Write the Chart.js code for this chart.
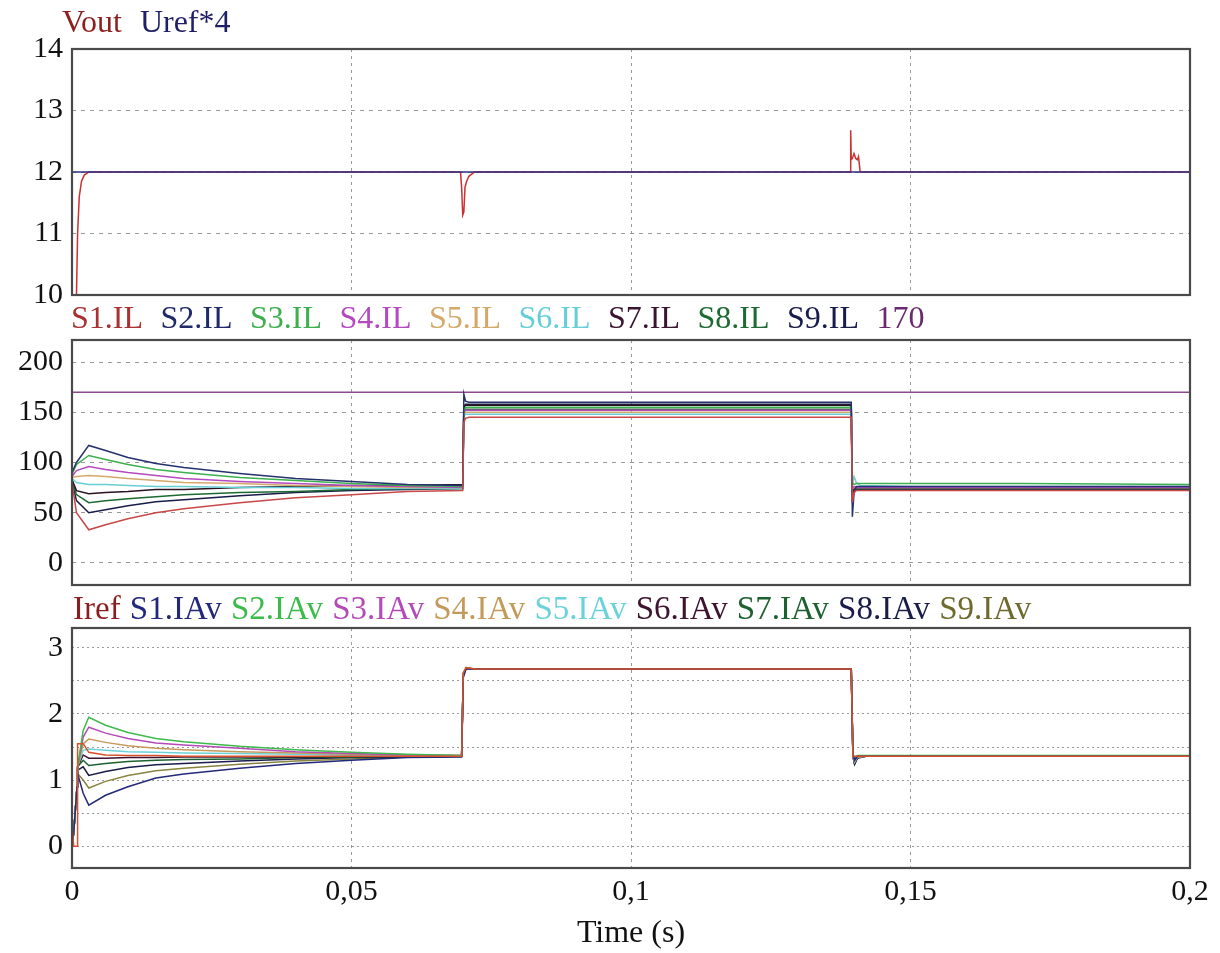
<!DOCTYPE html>
<html><head><meta charset="utf-8">
<script src="https://cdn.jsdelivr.net/npm/chart.js@4.4.1/dist/chart.umd.min.js"></script>
<style>
html,body{margin:0;padding:0;background:#fff;width:1220px;height:953px;overflow:hidden;}
canvas{position:absolute;left:0;}
</style></head><body>
<canvas id="c1" width="1220" height="320" style="top:0px"></canvas>
<canvas id="c2" width="1220" height="290" style="top:300px"></canvas>
<canvas id="c3" width="1220" height="363" style="top:590px"></canvas>
<script>
// ---------- tick labels ----------
const timeTicks = [0, 0.05, 0.1, 0.15, 0.2];
const timeTickLabels = ['0', '0,05', '0,1', '0,15', '0,2'];
const voltTicks = [10, 11, 12, 13, 14];
const ilTicks = [0, 50, 100, 150, 200];
const iavTicks = [0, 1, 2, 3];

// ---------- panel 1: Vout, Uref*4 ----------
const tVout = [0, 0.0008, 0.001, 0.0013, 0.0017, 0.0022, 0.003, 0.004, 0.0695, 0.0697, 0.0699, 0.0701, 0.0703, 0.0706, 0.071, 0.072,
               0.1392, 0.1393, 0.1394, 0.1396, 0.1399, 0.1402, 0.1405, 0.1407, 0.141, 0.2];
const vout = [10, 10, 11.0, 11.6, 11.85, 11.95, 12.0, 12.0, 12.0, 11.75, 11.3, 11.35, 11.75, 11.85, 11.93, 12.0,
              12.0, 12.68, 12.2, 12.22, 12.3, 12.22, 12.2, 12.25, 12.0, 12.0];
const tUref = [0, 0.2];
const uref4 = [12, 12];

// ---------- panel 2: inductor currents ----------
const tIL = [0, 0.0008, 0.003, 0.006, 0.01, 0.015, 0.02, 0.03, 0.04, 0.05, 0.06, 0.0699,
             0.0701, 0.0704, 0.071, 0.08, 0.1, 0.12, 0.1394,
             0.1396, 0.1399, 0.1403, 0.141, 0.15, 0.17, 0.2];
const s1IL = [80, 50, 33, 38, 44, 50, 54, 60, 65, 68, 71, 72, 140, 144, 145, 145, 145, 145, 145, 60, 70, 72, 72, 72, 72, 72];
const s2IL = [90, 100, 117, 112, 105, 99, 95, 89, 84, 81, 78, 77, 168, 161, 160, 160, 160, 160, 160, 46, 70, 76, 76, 76, 76, 76];
const s3IL = [88, 98, 107, 103, 98, 93, 90, 85, 82, 79, 77, 76, 152, 155, 155, 155, 155, 155, 155, 80, 78, 79, 79, 79, 79, 78];
const s4IL = [86, 92, 96, 93, 90, 87, 84, 81, 79, 77, 76, 75, 150, 152, 152, 152, 152, 152, 152, 74, 76, 75, 75, 75, 75, 75];
const s5IL = [85, 86, 87, 86, 84, 82, 80, 79, 77, 76, 75, 75, 148, 150, 150, 150, 150, 150, 150, 74, 75, 75, 75, 75, 75, 75];
const s6IL = [84, 80, 78, 78, 77, 76, 76, 75, 75, 74, 74, 74, 146, 148, 148, 148, 148, 148, 148, 78, 86, 80, 77, 76, 76, 76];
const s7IL = [83, 72, 69, 70, 71, 73, 73, 75, 76, 77, 77, 78, 155, 157, 157, 157, 157, 157, 157, 72, 75, 75, 75, 75, 75, 75];
const s8IL = [82, 68, 60, 62, 64, 66, 68, 70, 71, 73, 74, 74, 151, 153, 153, 153, 153, 153, 153, 70, 74, 74, 74, 74, 74, 74];
const s9IL = [81, 62, 50, 53, 57, 61, 63, 67, 70, 72, 73, 74, 156, 158, 158, 158, 158, 158, 158, 65, 72, 73, 73, 73, 73, 73];
const tLimit = [0, 0.2];
const limit170 = [170, 170];

// ---------- panel 3: average currents ----------
const tAv = [0, 0.0003, 0.0009, 0.001, 0.002, 0.003, 0.006, 0.01, 0.015, 0.02, 0.03, 0.04, 0.05, 0.06, 0.0697,
             0.0700, 0.0705, 0.072, 0.1, 0.1394, 0.1397, 0.1400, 0.1405, 0.142, 0.2];
const iref  = [0.35, 0, 0, 1.55, 1.55, 1.42, 1.38, 1.37, 1.37, 1.36, 1.36, 1.36, 1.36, 1.36, 1.36, 2.62, 2.7, 2.68, 2.68, 2.68, 1.36, 1.36, 1.36, 1.36, 1.36];
const s1IAv = [0, 0.2, 0.9, 1.1, 0.8, 0.62, 0.77, 0.9, 1.03, 1.09, 1.18, 1.25, 1.30, 1.34, 1.35, 2.55, 2.68, 2.68, 2.68, 2.68, 1.4, 1.3, 1.36, 1.36, 1.36];
const s2IAv = [0, 0.2, 0.9, 1.2, 1.75, 1.95, 1.83, 1.72, 1.63, 1.58, 1.51, 1.46, 1.42, 1.39, 1.37, 2.6, 2.7, 2.68, 2.68, 2.68, 1.38, 1.34, 1.37, 1.37, 1.37];
const s3IAv = [0, 0.2, 0.9, 1.2, 1.65, 1.8, 1.71, 1.63, 1.56, 1.53, 1.48, 1.43, 1.40, 1.38, 1.37, 2.6, 2.69, 2.68, 2.68, 2.68, 1.36, 1.3, 1.36, 1.36, 1.36];
const s4IAv = [0, 0.2, 0.9, 1.2, 1.55, 1.62, 1.57, 1.52, 1.48, 1.46, 1.43, 1.41, 1.39, 1.38, 1.37, 2.6, 2.69, 2.68, 2.68, 2.68, 1.36, 1.28, 1.35, 1.36, 1.36];
const s5IAv = [0, 0.2, 0.9, 1.2, 1.45, 1.47, 1.45, 1.43, 1.42, 1.41, 1.40, 1.39, 1.38, 1.37, 1.36, 2.6, 2.69, 2.68, 2.68, 2.68, 1.36, 1.27, 1.35, 1.36, 1.36];
const s6IAv = [0, 0.2, 0.9, 1.2, 1.38, 1.33, 1.33, 1.34, 1.34, 1.35, 1.35, 1.35, 1.36, 1.36, 1.36, 2.6, 2.69, 2.68, 2.68, 2.68, 1.36, 1.25, 1.34, 1.36, 1.36];
const s7IAv = [0, 0.2, 0.9, 1.2, 1.3, 1.22, 1.25, 1.28, 1.30, 1.31, 1.32, 1.34, 1.35, 1.36, 1.36, 2.6, 2.69, 2.68, 2.68, 2.68, 1.36, 1.24, 1.34, 1.36, 1.36];
const s8IAv = [0, 0.2, 0.9, 1.15, 1.2, 1.07, 1.13, 1.19, 1.23, 1.25, 1.29, 1.32, 1.34, 1.35, 1.36, 2.6, 2.69, 2.68, 2.68, 2.68, 1.36, 1.24, 1.33, 1.36, 1.36];
const s9IAv = [0, 0.2, 0.9, 1.1, 1.0, 0.88, 0.98, 1.07, 1.14, 1.18, 1.24, 1.29, 1.32, 1.35, 1.36, 2.62, 2.7, 2.68, 2.68, 2.68, 1.36, 1.25, 1.34, 1.36, 1.36];

// ---------- styling ----------
const FONT = "'Liberation Serif', 'Times New Roman', serif";
const pts = (ts, vs) => ts.map((t, i) => ({x: t, y: vs[i]}));
const ds = (label, ts, vs, color, extra) => Object.assign({
  label, data: pts(ts, vs), borderColor: color, legendColor: color,
  borderWidth: 1.5, pointRadius: 0, tension: 0, fill: false
}, extra || {});

const textLegend = {
  id: 'textLegend',
  afterDraw(chart, args, opts) {
    const ctx = chart.ctx;
    ctx.save();
    ctx.font = opts.size + 'px ' + FONT;
    ctx.textBaseline = 'middle';
    ctx.textAlign = 'left';
    let x = opts.x;
    chart.data.datasets.forEach(d => {
      ctx.fillStyle = d.legendColor;
      ctx.fillText(d.label, x, opts.y);
      x += ctx.measureText(d.label).width + opts.gap;
    });
    ctx.restore();
  }
};
const frame = {
  id: 'frame',
  afterDatasetsDraw(chart) {
    const a = chart.chartArea, ctx = chart.ctx;
    ctx.save();
    ctx.strokeStyle = '#4a4a4a';
    ctx.lineWidth = 2.2;
    ctx.strokeRect(a.left, a.top, a.right - a.left, a.bottom - a.top);
    ctx.restore();
  }
};

function xScale(showLabels) {
  return {
    type: 'linear', min: 0, max: 0.2,
    grid: {color: '#9a9a9a', lineWidth: 1, drawTicks: false},
    border: {display: false, dash: [3, 4]},
    ticks: {
      display: showLabels, stepSize: 0.05, padding: 6, color: '#111',
      font: {family: FONT, size: 30},
      callback: v => { const i = timeTicks.findIndex(t => Math.abs(t - v) < 1e-9); return i >= 0 ? timeTickLabels[i] : ''; }
    },
    title: {display: showLabels, text: 'Time (s)', color: '#111', font: {family: FONT, size: 32}, padding: {top: 0, bottom: 0}},
    afterFit: s => { s.height = showLabels ? 85 : 0; s.paddingLeft = 0; s.paddingRight = 0; }
  };
}
function yScale(min, max, step, labels, dash) {
  return {
    type: 'linear', min, max,
    grid: {color: '#9a9a9a', lineWidth: 1, drawTicks: false},
    border: {display: false, dash: dash},
    ticks: {
      stepSize: step, includeBounds: false, padding: 9, color: '#111',
      font: {family: FONT, size: 30},
      callback: v => labels.some(l => Math.abs(l - v) < 1e-9) ? String(v) : ''
    },
    afterFit: s => { s.width = 72; s.paddingTop = 0; s.paddingBottom = 0; }
  };
}
function baseOptions(padTop, padBottom, legend, ymin, ymax, step, labels, dash, showX) {
  return {
    responsive: false, animation: false, devicePixelRatio: 1,
    layout: {padding: {top: padTop, bottom: padBottom, left: 0, right: 30}},
    plugins: {legend: {display: false}, tooltip: {enabled: false}, textLegend: legend},
    scales: {x: xScale(showX), y: yScale(ymin, ymax, step, labels, dash)}
  };
}

new Chart(document.getElementById('c1'), {
  type: 'line',
  data: {datasets: [
    ds('Vout', tVout, vout, '#cc3030', {legendColor: '#8e1f1f', order: 1}),
    ds('Uref*4', tUref, uref4, '#2c2c80', {legendColor: '#1f1f66', order: 0})
  ]},
  options: baseOptions(49, 25, {x: 62, y: 24, gap: 18, size: 32}, 10, 14, 1, voltTicks, [4, 5], false),
  plugins: [textLegend, frame]
});

new Chart(document.getElementById('c2'), {
  type: 'line',
  data: {datasets: [
    ds('S1.IL', tIL, s1IL, '#c84848', {legendColor: '#a83232'}),
    ds('S2.IL', tIL, s2IL, '#25306e', {legendColor: '#1f2a6b'}),
    ds('S3.IL', tIL, s3IL, '#3cb04e'),
    ds('S4.IL', tIL, s4IL, '#b44ac0'),
    ds('S5.IL', tIL, s5IL, '#d4a86a'),
    ds('S6.IL', tIL, s6IL, '#66cfd6'),
    ds('S7.IL', tIL, s7IL, '#2a1222', {legendColor: '#3a1530'}),
    ds('S8.IL', tIL, s8IL, '#1e6a33'),
    ds('S9.IL', tIL, s9IL, '#181c48'),
    ds('170', tLimit, limit170, '#8a4a8e', {legendColor: '#6a2a6e'})
  ]},
  options: baseOptions(40, 5, {x: 71, y: 20, gap: 17.5, size: 32}, -22, 222, 50, ilTicks, [4, 5], false),
  plugins: [textLegend, frame]
});

new Chart(document.getElementById('c3'), {
  type: 'line',
  data: {datasets: [
    ds('Iref', tAv, iref, '#d8502c', {legendColor: '#8a1e1e'}),
    ds('S1.IAv', tAv, s1IAv, '#23297a'),
    ds('S2.IAv', tAv, s2IAv, '#3cba4a'),
    ds('S3.IAv', tAv, s3IAv, '#b44ab8'),
    ds('S4.IAv', tAv, s4IAv, '#c49a5a'),
    ds('S5.IAv', tAv, s5IAv, '#6ad2da'),
    ds('S6.IAv', tAv, s6IAv, '#3e1330'),
    ds('S7.IAv', tAv, s7IAv, '#1d6130'),
    ds('S8.IAv', tAv, s8IAv, '#1a1c4a'),
    ds('S9.IAv', tAv, s9IAv, '#8a8440', {legendColor: '#6e6a2e'})
  ]},
  options: baseOptions(38, 0, {x: 73, y: 20, gap: 9.2, size: 33}, -0.33, 3.3, 0.5, iavTicks, [2, 3], true),
  plugins: [textLegend, frame]
});
</script>
</body></html>
